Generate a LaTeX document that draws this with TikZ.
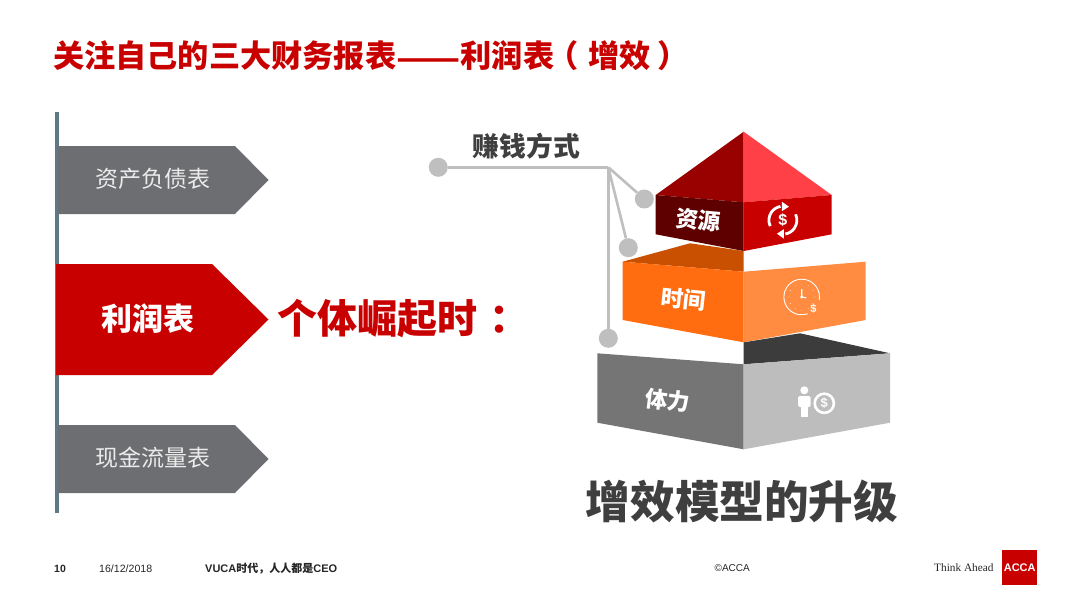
\documentclass[tikz,border=0pt]{standalone}
\usepackage{fontspec}
\usepackage{graphicx}
\setmainfont{Liberation Sans}
\newfontfamily\cjk{Noto Sans CJK SC}
\newfontfamily\cjktc{Noto Sans CJK TC}
\newfontfamily\serifthink{Liberation Serif}
\newcommand\fsz[1]{\fontsize{#1}{#1}\selectfont}
\definecolor{accared}{HTML}{C80000}
\definecolor{bargray}{HTML}{6D6E71}
\definecolor{axisblue}{HTML}{5F7887}
\definecolor{wire}{HTML}{BFBFBF}
\definecolor{inktext}{HTML}{3F3F3F}
\definecolor{roofL}{HTML}{990000}
\definecolor{roofR}{HTML}{FF4046}
\definecolor{frontL}{HTML}{5E0000}
\definecolor{orT}{HTML}{C85000}
\definecolor{orL}{HTML}{FF6D10}
\definecolor{orR}{HTML}{FF8C40}
\definecolor{grL}{HTML}{757575}
\definecolor{grR}{HTML}{BDBDBD}
\definecolor{grT}{HTML}{3C3C3C}
\tikzset{
  dot/.style={circle,fill=wire,draw=none,minimum size=19pt,inner sep=0pt},
  wireline/.style={draw=wire,line width=2.6pt},
  facelabel/.style={text=white,font=\cjk\bfseries\fsz{22.5},inner sep=0pt},
  barlabel/.style={text=white!92!black,font=\cjk\fsz{23},inner sep=0pt},
  foot/.style={text=black!85,inner sep=0pt},
}
\begin{document}
\begin{tikzpicture}[x=1pt,y=-1pt]
\useasboundingbox[fill=white] (0,0) rectangle (1080,608);
% title
\node[anchor=west,inner sep=0pt,text=accared,font=\cjk\bfseries\fsz{31.2}] (title) at (53,55.5) {关注自己的三大财务报表\raisebox{-2pt}{\scalebox{1.2}[1]{——}}利润表\hspace{-6.3pt}（\hspace{9pt}增效\hspace{6.5pt}）};
% axis
\draw[draw=axisblue,line width=4pt] (57,112) -- (57,513);
% left bars
\fill[bargray] (58,146) -- (235,146) -- (268.5,180) -- (235,214) -- (58,214) -- cycle;
\fill[accared] (56,264) -- (212,264) -- (268.5,319.5) -- (212,375) -- (56,375) -- cycle;
\fill[bargray] (58,425) -- (235,425) -- (268.5,459) -- (235,493) -- (58,493) -- cycle;
\node[barlabel] (b1) at (153,179) {资产负债表};
\node[text=white,font=\cjk\bfseries\fsz{31},inner sep=0pt] (b2) at (148,319) {利润表};
\node[barlabel] (b3) at (153,458) {现金流量表};
\node[text=accared,font=\cjk\bfseries\fsz{40},inner sep=0pt,anchor=west] (rise) at (277,318.5) {个体崛起时};
\node[text=accared,font=\cjktc\bfseries\fsz{40},inner sep=0pt] (risecolon) at (499,320.5) {：};
% pyramid: bottom block
\fill[grT] (743.7,342.3) -- (800,333.3) -- (890,353.3) -- (743.7,364.3) -- cycle;
\fill[grL] (597.3,353.3) -- (743.7,364.3) -- (743.7,449.3) -- (597.3,422.7) -- cycle;
\fill[grR] (743.7,364.3) -- (890,353.3) -- (890,422.7) -- (743.7,449.3) -- cycle;
% middle block
\fill[orT] (622.7,261.7) -- (690,243.3) -- (743.7,251) -- (743.7,271.7) -- cycle;
\fill[orL] (622.7,261.7) -- (743.7,271.7) -- (743.7,342.3) -- (622.7,320) -- cycle;
\fill[orR] (743.7,271.7) -- (865.7,261.7) -- (865.7,320) -- (743.7,342.3) -- cycle;
% top block
\fill[roofL] (743.7,131.7) -- (655.7,195) -- (743.7,202.3) -- cycle;
\fill[roofR] (743.7,131.7) -- (831.7,195) -- (743.7,202.3) -- cycle;
\fill[frontL] (655.7,195) -- (743.7,202.3) -- (743.7,251) -- (655.7,234.3) -- cycle;
\fill[accared] (743.7,202.3) -- (831.7,195) -- (831.7,234.3) -- (743.7,251) -- cycle;
% face labels
\node[facelabel,rotate=-5] (ziyuan) at (698.5,220.5) {资源};
\node[facelabel,rotate=-6] (shijian) at (683.5,299) {时间};
\node[facelabel,rotate=-7] (tili) at (668,400.5) {体力};
% dollar cycle icon (y axis up inside the scope)
\begin{scope}[shift={(782.9,220.2)},y=1pt]
  \draw[draw=white,line width=2.8pt] (205:14) arc[start angle=205,end angle=100,radius=14];
  \draw[draw=white,line width=2.8pt] (25:14) arc[start angle=25,end angle=-80,radius=14];
  \fill[white] (-1,18.5) -- (6,13.5) -- (-1,9) -- cycle;
  \fill[white] (1,-18.5) -- (-6,-13.5) -- (1,-9) -- cycle;
  \node[text=white,font=\bfseries\fsz{16},inner sep=0pt] (d1) at (0,0) {\$};
\end{scope}
% clock icon
\begin{scope}[shift={(801.7,297)},y=1pt]
  \draw[draw=white,line width=.9pt] (-10:17.8) arc[start angle=-10,end angle=290,radius=17.8];
  \draw[draw=white,line width=1.1pt] (0,8) -- (0,0) -- (4.5,-.8);
  \fill[white] (0,0) circle (1.6);
  \foreach \a in {0,30,...,330}{\fill[white] (\a:13) circle (.45);}
  \node[text=white,font=\bfseries\fsz{11},inner sep=0pt] (d2) at (11.8,-12.3) {\$};
\end{scope}
% person and coin icon
\fill[white] (804.3,390.3) circle (4);
\fill[white,rounded corners=1.5pt] (798,396) rectangle (810.5,407);
\fill[white] (800.8,404) rectangle (807.8,417);
\draw[draw=white,line width=2.6pt] (824.3,403.3) circle (9.6);
\node[text=white,font=\bfseries\fsz{13},inner sep=0pt] (d3) at (824.3,403.3) {\$};
% connectors
\node[dot] (p0) at (438.3,167.3) {};
\node[dot] (p1) at (644.3,199) {};
\node[dot] (p2) at (628.3,247.7) {};
\node[dot] (p3) at (608.3,338.3) {};
\coordinate (hub) at (608.3,167.3);
\draw[wireline] (p0) -- (hub);
\draw[wireline] (hub) -- (p1);
\draw[wireline] (hub) -- (p2);
\draw[wireline] (hub) -- (p3);
\node[text=inktext,font=\cjk\bfseries\fsz{26.8},inner sep=0pt] (earn) at (526.5,146) {赚钱方式};
\node[text=inktext,font=\cjk\bfseries\fsz{44.6},inner sep=0pt] (upgrade) at (742,501.5) {增效模型的升级};
% footer
\node[foot,anchor=west,font=\bfseries\fsz{10.5}] (pg) at (54,568.5) {10};
\node[foot,anchor=west,font=\fsz{10.6}] (dt) at (99,568.5) {16/12/2018};
\node[foot,anchor=west,font=\bfseries\fsz{11}] (ev) at (205,568.5) {VUCA{\cjk 时代，人人都是}CEO};
\node[foot,anchor=west,font=\fsz{10}] (cp) at (714.5,568.5) {©ACCA};
\node[foot,anchor=west,font=\serifthink\fsz{11.3}] (ta) at (934,568) {Think Ahead};
\node[fill=accared,minimum width=35.5pt,minimum height=35.5pt,inner sep=0pt,text=white,font=\bfseries\fsz{11}] (logo) at (1019.7,567.7) {ACCA};
\end{tikzpicture}
\end{document}
